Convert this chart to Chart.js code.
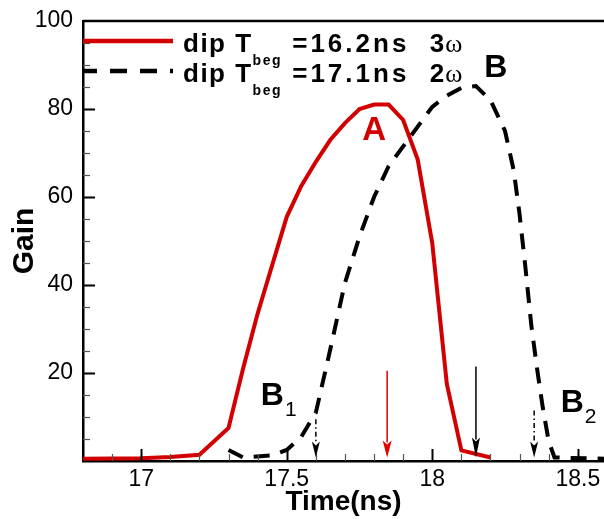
<!DOCTYPE html>
<html>
<head>
<meta charset="utf-8">
<title>Gain vs Time</title>
<script src="https://cdn.jsdelivr.net/npm/chart.js@4.4.1/dist/chart.umd.min.js"></script>
<style>
  html, body { margin: 0; padding: 0; background: #fff; }
  #wrap { width: 604px; height: 519px; }
</style>
</head>
<body>
<div id="wrap"><canvas id="gain"></canvas></div>
<script>
// 3ω pulse, dip starting at 16.2 ns
var timeRed = [16.8, 17.0, 17.1, 17.2, 17.3, 17.35, 17.4, 17.45, 17.5, 17.55, 17.6, 17.65, 17.7, 17.75, 17.8, 17.85, 17.9, 17.95, 18.0, 18.05, 18.1, 18.2];
var gainRed = [0.5, 0.6, 0.9, 1.4, 7.5, 21, 33.5, 44.5, 55.5, 62.5, 68, 73, 76.8, 80, 81, 81, 77.5, 68.5, 49.5, 17.5, 2.4, 0.8];

// 2ω pulse, dip starting at 17.1 ns
var timeBlack = [17.3, 17.35, 17.45, 17.5, 17.55, 17.6, 17.65, 17.7, 17.75, 17.8, 17.85, 17.9, 17.95, 18.0, 18.05, 18.1, 18.15, 18.2, 18.25, 18.28, 18.3, 18.32, 18.34, 18.36, 18.38, 18.4, 18.42, 18.6];
var gainBlack = [2.5, 0.8, 1.3, 2.5, 5.5, 11, 25.5, 40.5, 51, 60, 67, 71.5, 76, 80.5, 83, 84.8, 85.2, 82, 75, 66, 56, 44, 31, 21, 12, 4.5, 0.8, 0.5];

var xTicks = [17, 17.5, 18, 18.5];
var yTicks = [20, 40, 60, 80, 100];

// arrows marking the pulse edges: time, start gain, end gain
var redArrows = [[17.845, 20.5, 0.8]];
var blackArrows = [[18.15, 21.5, 0.8]];
var dashDotArrows = [[17.6, 9.5, 0.8], [18.35, 11.5, 0.8]];

var FONT = "'Liberation Sans', Arial, sans-serif";
var RED = '#d20000';

function toPts(xs, ys) {
  return xs.map(function (x, i) { return { x: x, y: ys[i] }; });
}

function arrow(ctx, x, y0, y1, color, dash, headLen, headW) {
  ctx.strokeStyle = color;
  ctx.fillStyle = color;
  ctx.lineWidth = 1.5;
  ctx.setLineDash(dash);
  ctx.beginPath();
  ctx.moveTo(x, y0);
  ctx.lineTo(x, y1 - headLen + 2);
  ctx.stroke();
  ctx.setLineDash([]);
  ctx.beginPath();
  ctx.moveTo(x - headW / 2, y1 - headLen);
  ctx.lineTo(x, y1 - headLen + 4);
  ctx.lineTo(x + headW / 2, y1 - headLen);
  ctx.lineTo(x, y1);
  ctx.closePath();
  ctx.fill();
}

// label with a subscript, e.g. B1
function subLabel(ctx, x, y, main, sub) {
  ctx.font = 'bold 32px ' + FONT;
  ctx.textAlign = 'left';
  ctx.fillText(main, x, y);
  var w = ctx.measureText(main).width;
  ctx.font = '21px ' + FONT;
  ctx.fillText(sub, x + w + 1, y + 11);
}

function legendRow(ctx, y, num, omegaLead, dashed, color) {
  ctx.save();
  ctx.lineWidth = 4.5;
  ctx.strokeStyle = color;
  if (dashed) { ctx.setLineDash([17, 13]); ctx.lineDashOffset = 3; }
  ctx.beginPath();
  ctx.moveTo(83, y - 11);
  ctx.lineTo(173, y - 11);
  ctx.stroke();
  ctx.restore();

  ctx.save();
  ctx.fillStyle = '#000';
  ctx.textAlign = 'left';
  ctx.letterSpacing = '1.5px';
  var x = 183;
  ctx.font = 'bold 26px ' + FONT;
  ctx.fillText('dip T', x, y);
  x += ctx.measureText('dip T').width;
  ctx.font = 'bold 14px ' + FONT;
  ctx.fillText('beg', x, y + 13);
  x += ctx.measureText('beg').width;
  ctx.font = 'bold 26px ' + FONT;
  ctx.letterSpacing = '3px';
  var s = ' =' + num + 'ns  ' + omegaLead;
  ctx.fillText(s, x, y);
  x += ctx.measureText(s).width - 2;
  ctx.letterSpacing = '0px';
  ctx.font = "26px 'Liberation Serif', 'Times New Roman', serif";
  ctx.fillText('\u03c9', x, y);
  ctx.restore();
}

var decor = {
  id: 'decor',
  afterDatasetsDraw: function (chart) {
    var ctx = chart.ctx, xs = chart.scales.x, ys = chart.scales.y, a = chart.chartArea;
    ctx.save();

    // frame line along the top
    ctx.strokeStyle = '#000';
    ctx.lineWidth = 2.5;
    ctx.beginPath();
    ctx.moveTo(a.left, a.top);
    ctx.lineTo(a.right, a.top);
    ctx.stroke();

    // inward tick marks, majors longer
    for (var v = 5; v < 100; v += 5) {
      var py = Math.round(ys.getPixelForValue(v)) + 0.5;
      var major = v % 20 === 0;
      ctx.lineWidth = major ? 2 : 1.2;
      ctx.strokeStyle = major ? '#000' : '#555';
      ctx.beginPath();
      ctx.moveTo(a.left, py);
      ctx.lineTo(a.left + (major ? 12 : 7), py);
      ctx.stroke();
    }
    for (var k = 168; k <= 186; k++) {
      var t = k / 10;
      if (t <= xs.min || t >= xs.max) continue;
      var px = Math.round(xs.getPixelForValue(t)) + 0.5;
      var maj = k % 5 === 0;
      ctx.lineWidth = maj ? 2 : 1.2;
      ctx.strokeStyle = maj ? '#000' : '#555';
      ctx.beginPath();
      ctx.moveTo(px, a.bottom);
      ctx.lineTo(px, a.bottom - (maj ? 12 : 7));
      ctx.stroke();
    }

    redArrows.forEach(function (r) {
      arrow(ctx, xs.getPixelForValue(r[0]), ys.getPixelForValue(r[1]), ys.getPixelForValue(r[2]), '#e00000', [], 17, 9);
    });
    blackArrows.forEach(function (r) {
      arrow(ctx, xs.getPixelForValue(r[0]), ys.getPixelForValue(r[1]), ys.getPixelForValue(r[2]), '#000', [], 20, 8);
    });
    dashDotArrows.forEach(function (r) {
      arrow(ctx, xs.getPixelForValue(r[0]), ys.getPixelForValue(r[1]), ys.getPixelForValue(r[2]), '#000', [5, 3, 1.5, 3], 16, 8);
    });

    // peak and edge labels
    ctx.textBaseline = 'alphabetic';
    ctx.fillStyle = RED;
    ctx.textAlign = 'center';
    ctx.font = 'bold 33px ' + FONT;
    ctx.fillText('A', xs.getPixelForValue(17.80), ys.getPixelForValue(73));
    ctx.fillStyle = '#000';
    ctx.font = 'bold 32px ' + FONT;
    ctx.fillText('B', xs.getPixelForValue(18.218), ys.getPixelForValue(87.2));
    subLabel(ctx, xs.getPixelForValue(17.411), ys.getPixelForValue(12.7), 'B', '1');
    subLabel(ctx, xs.getPixelForValue(18.441), ys.getPixelForValue(11.2), 'B', '2');

    legendRow(ctx, 52, '16.2', '3', false, RED);
    legendRow(ctx, 82, '17.1', '2', true, '#000');
    ctx.restore();
  }
};

new Chart(document.getElementById('gain'), {
  type: 'line',
  data: {
    datasets: [
      {
        label: 'dip Tbeg =16.2ns 3\u03c9',
        data: toPts(timeRed, gainRed),
        borderColor: RED,
        borderWidth: 4,
        pointRadius: 0,
        tension: 0,
        fill: false
      },
      {
        label: 'dip Tbeg =17.1ns 2\u03c9',
        data: toPts(timeBlack, gainBlack),
        borderColor: '#000',
        borderWidth: 4,
        borderDash: [16, 11],
        pointRadius: 0,
        tension: 0,
        fill: false
      }
    ]
  },
  options: {
    responsive: true,
    maintainAspectRatio: false,
    animation: false,
    layout: { padding: { top: 21, right: 0, left: 0, bottom: 0 } },
    plugins: { legend: { display: false }, tooltip: { enabled: false } },
    scales: {
      x: {
        type: 'linear',
        min: 16.8,
        max: 18.59,
        afterBuildTicks: function (s) { s.ticks = xTicks.map(function (v) { return { value: v }; }); },
        afterFit: function (s) { s.height = 58; s.paddingLeft = 0; s.paddingRight = 0; },
        grid: { display: false, drawTicks: false },
        border: { display: true, color: '#000', width: 2.5 },
        ticks: {
          color: '#000',
          padding: 5,
          maxRotation: 0,
          font: { family: FONT, size: 23 },
          callback: function (v) { return String(v); }
        },
        title: {
          display: true,
          text: 'Time(ns)',
          color: '#000',
          padding: { top: 0, bottom: 0 },
          font: { family: FONT, size: 28, weight: 'bold' }
        }
      },
      y: {
        type: 'linear',
        min: 0,
        max: 100,
        afterBuildTicks: function (s) { s.ticks = yTicks.map(function (v) { return { value: v }; }); },
        afterFit: function (s) { s.width = 83; s.paddingTop = 0; s.paddingBottom = 0; },
        grid: { display: false, drawTicks: false },
        border: { display: true, color: '#000', width: 2.5 },
        ticks: {
          color: '#000',
          padding: 10,
          font: { family: FONT, size: 23 }
        },
        title: {
          display: true,
          text: 'Gain',
          color: '#000',
          padding: { top: 7, bottom: 0 },
          font: { family: FONT, size: 30, weight: 'bold' }
        }
      }
    }
  },
  plugins: [decor]
});
</script>
</body>
</html>
